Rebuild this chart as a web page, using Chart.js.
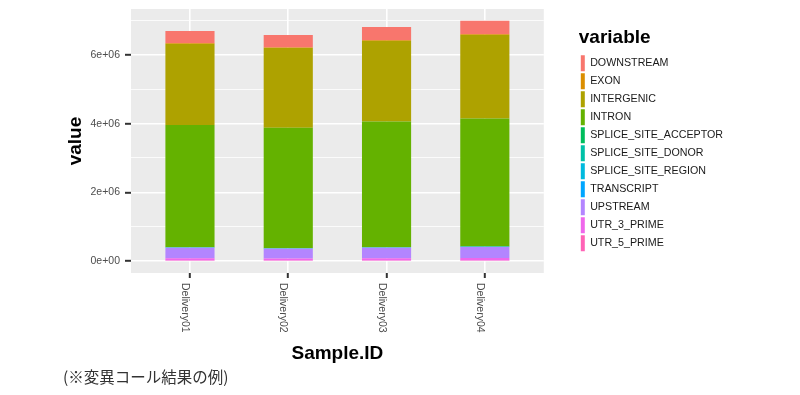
<!DOCTYPE html>
<html>
<head>
<meta charset="utf-8">
<script src="https://cdn.jsdelivr.net/npm/chart.js@4/dist/chart.umd.min.js"></script>
<style>
  body { margin: 0; background: #fff; }
  #wrap { position: relative; width: 800px; height: 395px; }
  #note { position: absolute; left: 63px; top: 369px; font: 15.5px/15px "Noto Sans CJK JP", sans-serif; color: #333; white-space: nowrap; }
</style>
</head>
<body>
<div id="wrap">
  <canvas id="chart" width="800" height="395"></canvas>
  <div id="note">(※変異コール結果の例)</div>
</div>
<script>
// categories / legend order (ggplot puts the first level on top of the stack)
var samples = ['Delivery01', 'Delivery02', 'Delivery03', 'Delivery04'];
var variables = ['DOWNSTREAM', 'EXON', 'INTERGENIC', 'INTRON', 'SPLICE_SITE_ACCEPTOR',
    'SPLICE_SITE_DONOR', 'SPLICE_SITE_REGION', 'TRANSCRIPT', 'UPSTREAM', 'UTR_3_PRIME', 'UTR_5_PRIME'];

// counts per sample
var downstream     = [360000, 360000, 380000, 390000];
var exon           = [21000, 20000, 22000, 23000];
var intergenic     = [2360000, 2320000, 2350000, 2430000];
var intron         = [3560000, 3510000, 3660000, 3730000];
var spliceAcceptor = [1200, 1100, 1200, 1300];
var spliceDonor    = [1300, 1200, 1300, 1400];
var spliceRegion   = [9000, 8500, 9200, 9400];
var transcript     = [4000, 3800, 4100, 4200];
var upstream       = [304500, 282400, 304300, 321000];
var utr3           = [65000, 60000, 65000, 68000];
var utr5           = [15000, 14000, 15000, 16000];

// labelled (major) ticks and all grid lines incl. minor ones
var yTicks = [0, 2000000, 4000000, 6000000];
var yGrid = [0, 1000000, 2000000, 3000000, 4000000, 5000000, 6000000, 7000000];

var series = [downstream, exon, intergenic, intron, spliceAcceptor, spliceDonor,
    spliceRegion, transcript, upstream, utr3, utr5];

// ggplot default hue palette, 11 levels
var colors = ['#F8766D', '#DB8E00', '#AEA200', '#64B200', '#00BD5C', '#00C1A7',
    '#00BADE', '#00A6FF', '#B385FF', '#EF67EB', '#FF63B6'];

function sci(v) {
    if (v === 0) return '0e+00';
    var e = Math.floor(Math.log10(Math.abs(v)));
    return (v / Math.pow(10, e)) + 'e+' + String(e).padStart(2, '0');
}

function isMajor(v) { return yTicks.indexOf(v) >= 0; }

Chart.defaults.font.family = '"Liberation Sans", Arial, sans-serif';

var datasets = variables.map(function (name, i) {
    return {
        label: name,
        data: series[i].map(function (v, j) { return { x: j, y: v }; }),
        backgroundColor: colors[i],
        borderWidth: 0,
        barPercentage: 1,
        categoryPercentage: 0.5
    };
}).reverse();

// grey panel behind the grid
var panel = {
    id: 'panel',
    beforeDraw: function (chart) {
        var a = chart.chartArea, c = chart.ctx;
        c.save();
        c.fillStyle = '#EBEBEB';
        c.fillRect(a.left, a.top, a.right - a.left, a.bottom - a.top);
        c.restore();
    }
};

// x labels turned 90deg clockwise, reading top to bottom
var xLabels = {
    id: 'xLabels',
    afterDraw: function (chart) {
        var s = chart.scales.x, c = chart.ctx;
        c.save();
        c.fillStyle = '#4D4D4D';
        c.font = '10.5px "Liberation Sans", Arial, sans-serif';
        c.textAlign = 'left';
        c.textBaseline = 'alphabetic';
        s.ticks.forEach(function (t, i) {
            var x = s.getPixelForTick(i);
            c.save();
            c.translate(x - 8, s.top + 10);
            c.rotate(Math.PI / 2);
            c.fillText(samples[t.value], 0, 0);
            c.restore();
        });
        c.restore();
    }
};

new Chart(document.getElementById('chart'), {
    type: 'bar',
    data: { datasets: datasets },
    plugins: [panel, xLabels],
    options: {
        responsive: false,
        animation: false,
        layout: { padding: { left: 60, top: 9, bottom: 22, right: 67 } },
        plugins: {
            tooltip: { enabled: false },
            legend: {
                position: 'right',
                align: 'start',
                reverse: true,
                maxWidth: 220,
                title: {
                    display: true,
                    text: 'variable',
                    position: 'start',
                    color: '#000',
                    font: { size: 19, weight: 'bold' },
                    padding: { top: 19.5, bottom: 2 }
                },
                labels: {
                    boxWidth: 4,
                    boxHeight: 16,
                    padding: 2,
                    color: '#1A1A1A',
                    font: { size: 10.7 }
                }
            }
        },
        scales: {
            x: {
                type: 'linear',
                stacked: true,
                offset: false,
                min: -0.6,
                max: 3.6,
                afterBuildTicks: function (s) {
                    s.ticks = samples.map(function (name, i) { return { value: i }; });
                },
                afterFit: function (s) { s.height = 100; },
                ticks: { display: false, stepSize: 1 },
                grid: { offset: false, color: '#FFFFFF', lineWidth: 1.6, tickLength: 5, tickColor: '#333333', tickWidth: 2 },
                border: { display: false },
                title: {
                    display: true,
                    text: 'Sample.ID',
                    color: '#000',
                    font: { size: 19, weight: 'bold' },
                    padding: { top: 0, bottom: 8 }
                }
            },
            y: {
                type: 'linear',
                stacked: true,
                min: -350000,
                max: 7340000,
                afterBuildTicks: function (s) {
                    s.ticks = yGrid.map(function (v) { return { value: v }; });
                },
                afterFit: function (s) {
                    s.width = 71;
                    s.paddingTop = 0;
                    s.paddingBottom = 0;
                },
                ticks: {
                    autoSkip: false,
                    padding: 5,
                    color: '#4D4D4D',
                    font: { size: 10.5 },
                    callback: function (v) { return isMajor(v) ? sci(v) : ''; }
                },
                grid: {
                    color: '#FFFFFF',
                    lineWidth: function (c) { return c.tick && isMajor(c.tick.value) ? 1.6 : 0.8; },
                    tickLength: 6,
                    tickWidth: 2,
                    tickColor: function (c) { return c.tick && isMajor(c.tick.value) ? '#333333' : 'rgba(0,0,0,0)'; }
                },
                border: { display: false },
                title: {
                    display: true,
                    text: 'value',
                    color: '#000',
                    font: { size: 19, weight: 'bold' },
                    padding: { top: 4, bottom: 0 }
                }
            },
            gap: {
                // empty space between the panel and the legend
                type: 'linear',
                position: 'right',
                display: true,
                ticks: { display: false },
                grid: { display: false },
                border: { display: false },
                afterFit: function (s) { s.width = 35; }
            }
        }
    }
});
</script>
</body>
</html>
